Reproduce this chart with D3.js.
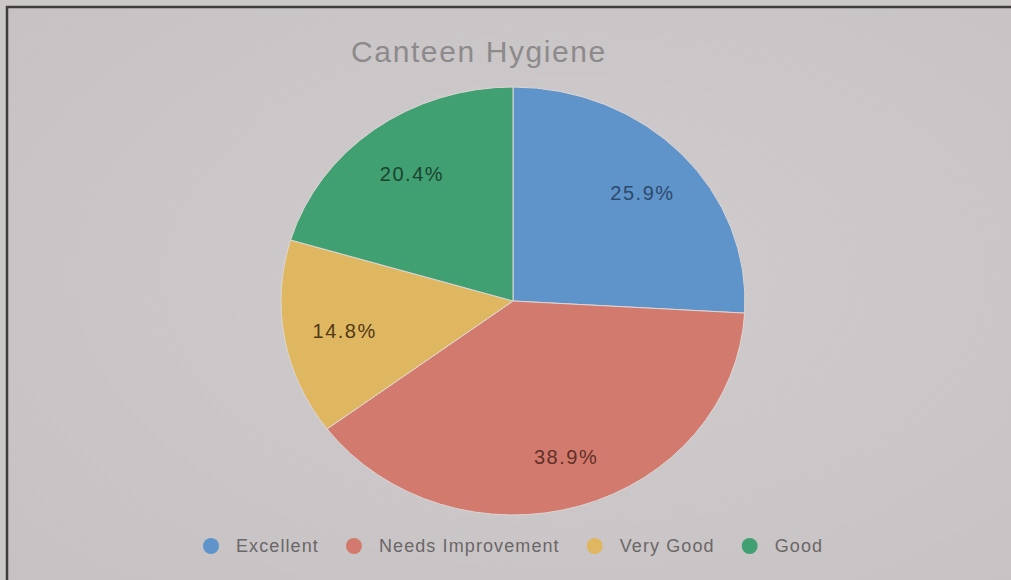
<!DOCTYPE html>
<html>
<head>
<meta charset="utf-8">
<script src="https://cdn.jsdelivr.net/npm/d3@7"></script>
<style>
  html, body { margin: 0; padding: 0; background: #cbc6c7; }
  svg { display: block; }
</style>
</head>
<body>
<svg id="chart" width="1011" height="580"></svg>
<script>
// Survey results: canteen hygiene rating
const categories = ["Excellent", "Needs Improvement", "Very Good", "Good"];
const values = [25.9, 38.9, 14.8, 20.4];
const title = "Canteen Hygiene";

const W = 1011, H = 580;
const cx = 513, cy = 301, rx = 232, ry = 214;
const font = "Liberation Sans, Arial, sans-serif";

const color = d3.scaleOrdinal()
  .domain(categories)
  .range(["#5f94cb", "#d27a6d", "#e0b761", "#41a072"]);
const labelColor = d3.scaleOrdinal()
  .domain(categories)
  .range(["#2c4a6c", "#63302a", "#513a16", "#1b4430"]);

const svg = d3.select("#chart");

// soft backdrop with a faint vignette
const defs = svg.append("defs");
const bg = defs.append("radialGradient").attr("id", "bg")
  .attr("cx", "55%").attr("cy", "45%").attr("r", "75%");
bg.append("stop").attr("offset", "0%").attr("stop-color", "#d0cbcc");
bg.append("stop").attr("offset", "100%").attr("stop-color", "#c6c1c2");
svg.append("rect").attr("width", W).attr("height", H).attr("fill", "#cdc8c8");
svg.append("rect").attr("x", 7).attr("y", 7).attr("width", W + 20).attr("height", H + 20)
  .attr("fill", "url(#bg)").attr("stroke", "#3f3d3e").attr("stroke-width", 2.5);

// title
svg.append("text")
  .attr("x", 479).attr("y", 62)
  .attr("text-anchor", "middle")
  .attr("font-family", font)
  .attr("font-size", 30)
  .attr("letter-spacing", 1.6)
  .attr("fill", "#8d8a8c")
  .text(title);

// pie, drawn as a circle and squashed into the ellipse seen on screen
const data = categories.map((c, i) => ({ name: c, value: values[i] }));
const pie = d3.pie().sort(null).value(d => d.value);
const arcs = pie(data);
const arc = d3.arc().innerRadius(0).outerRadius(rx);
const labelArc = d3.arc().innerRadius(rx * 0.75).outerRadius(rx * 0.75);

const g = svg.append("g")
  .attr("transform", `translate(${cx},${cy}) scale(1,${ry / rx})`);
g.selectAll("path")
  .data(arcs)
  .join("path")
  .attr("d", arc)
  .attr("fill", d => color(d.data.name))
  .attr("stroke", "#ded6d5")
  .attr("stroke-width", 1)
  .attr("vector-effect", "non-scaling-stroke");

// percentage labels, placed at the squashed centroids
svg.append("g").selectAll("text")
  .data(arcs)
  .join("text")
  .attr("x", d => cx + labelArc.centroid(d)[0] + 3)
  .attr("y", d => cy + labelArc.centroid(d)[1] * ry / rx + 2)
  .attr("dy", "0.35em")
  .attr("text-anchor", "middle")
  .attr("font-family", font)
  .attr("font-size", 20)
  .attr("letter-spacing", 1.5)
  .attr("fill", d => labelColor(d.data.name))
  .text(d => d3.format(".1f")(d.data.value) + "%");

// legend along the bottom
const legend = svg.append("g")
  .attr("font-family", font)
  .attr("font-size", 18)
  .attr("letter-spacing", 1.1);
let x = 211;
categories.forEach(c => {
  legend.append("circle")
    .attr("cx", x).attr("cy", 546).attr("r", 8)
    .attr("fill", color(c));
  const t = legend.append("text")
    .attr("x", x + 25).attr("y", 546).attr("dy", "0.35em")
    .attr("fill", "#6a6768")
    .text(c);
  x += 25 + t.node().getComputedTextLength() + 35;
});
</script>
</body>
</html>
